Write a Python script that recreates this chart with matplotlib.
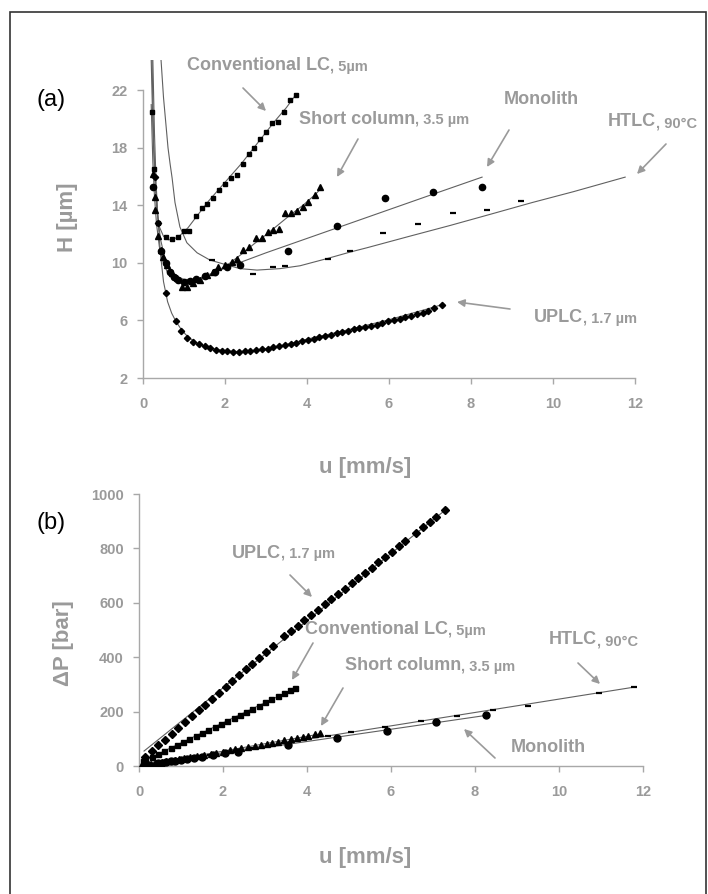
import matplotlib
matplotlib.use("Agg")
import matplotlib.pyplot as plt
from matplotlib.patches import Rectangle, FancyArrowPatch

plt.rcParams['font.family'] = ['Liberation Sans', 'DejaVu Sans']

W, H = 708, 894
GRAY = '#9a9a9a'
AXC = '#a8a8a8'
LINEC = '#606060'

# ---------------- Panel (a): plate height H [um] vs u [mm/s] ----------------
x_ticks = [0, 2, 4, 6, 8, 10, 12]
h_ticks = [2, 6, 10, 14, 18, 22]
p_ticks = [0, 200, 400, 600, 800, 1000]

uplc_u_a = [0.30, 0.37, 0.56, 0.80, 0.93, 1.07, 1.22, 1.36, 1.50, 1.64, 1.78, 1.92, 2.06, 2.20,
            2.34, 2.48, 2.62, 2.76, 2.90, 3.04, 3.18, 3.32, 3.46, 3.60, 3.74, 3.88, 4.02, 4.16,
            4.30, 4.44, 4.58, 4.72, 4.86, 5.00, 5.14, 5.28, 5.42, 5.56, 5.70, 5.84, 5.98, 6.12,
            6.26, 6.40, 6.54, 6.68, 6.82, 6.96, 7.10, 7.29]
uplc_h_a = [16.0, 12.8, 7.9, 5.95, 5.3, 4.75, 4.5, 4.35, 4.2, 4.1, 3.98, 3.9, 3.85, 3.8,
            3.82, 3.85, 3.88, 3.95, 4.0, 4.05, 4.12, 4.2, 4.3, 4.38, 4.45, 4.55, 4.62, 4.72,
            4.85, 4.92, 5.0, 5.1, 5.2, 5.25, 5.38, 5.5, 5.55, 5.62, 5.7, 5.85, 5.95, 6.05,
            6.12, 6.22, 6.3, 6.45, 6.55, 6.65, 6.85, 7.1]
uplc_fit_u_a = [0.24, 0.28, 0.32, 0.37, 0.43, 0.5, 0.6, 0.7, 0.8, 0.95, 1.1, 1.3, 1.5, 1.8,
                2.1, 2.4, 2.8, 3.2, 3.6, 4.0, 4.5, 5.0, 5.5, 6.0, 6.5, 7.0, 7.3]
uplc_fit_h_a = [24.1, 19.0, 15.5, 12.8, 10.5, 8.7, 7.3, 6.5, 5.95, 5.3, 4.85, 4.45, 4.2, 3.98,
                3.86, 3.84, 3.92, 4.12, 4.4, 4.7, 5.02, 5.35, 5.7, 6.05, 6.45, 6.85, 7.1]

conv_u_a = [0.22, 0.27, 0.37, 0.56, 0.71, 0.85, 1.00, 1.13, 1.29, 1.44, 1.57, 1.71, 1.86, 2.00,
            2.15, 2.29, 2.44, 2.59, 2.71, 2.85, 3.00, 3.15, 3.29, 3.44, 3.59, 3.73]
conv_h_a = [20.5, 16.5, 12.8, 11.8, 11.65, 11.8, 12.2, 12.2, 13.25, 13.8, 14.1, 14.5, 15.05, 15.5,
            15.9, 16.1, 16.9, 17.6, 18.0, 18.6, 19.1, 19.7, 19.8, 20.5, 21.3, 21.65]
conv_fit_u_a = [0.2, 0.24, 0.28, 0.33, 0.4, 0.5, 0.62, 0.75, 0.9, 1.1, 1.3, 1.6, 2.0, 2.4,
                2.8, 3.2, 3.5, 3.73]
conv_fit_h_a = [24.1, 19.5, 16.3, 13.9, 12.5, 11.85, 11.6, 11.65, 11.9, 12.45, 13.2, 14.3, 15.6,
                16.9, 18.35, 19.8, 20.8, 21.7]

short_u_a = [0.24, 0.29, 0.29, 0.37, 0.44, 0.49, 0.58, 0.70, 0.82, 0.95, 1.08, 1.21, 1.39, 1.55,
             1.71, 1.83, 2.00, 2.17, 2.29, 2.44, 2.59, 2.76, 2.90, 3.05, 3.17, 3.32, 3.46, 3.61,
             3.76, 3.90, 4.02, 4.20, 4.32]
short_h_a = [16.2, 14.6, 13.7, 11.9, 10.9, 10.4, 9.85, 9.3, 8.95, 8.3, 8.3, 8.6, 8.8, 9.15,
             9.35, 9.7, 9.85, 10.05, 10.3, 10.9, 11.1, 11.7, 11.7, 12.15, 12.3, 12.35, 13.5, 13.5,
             13.6, 13.9, 14.2, 14.7, 15.3]
short_fit_u_a = [0.2, 0.24, 0.28, 0.33, 0.4, 0.5, 0.62, 0.75, 0.9, 1.05, 1.25, 1.5, 1.8, 2.1,
                 2.4, 2.7, 3.0, 3.3, 3.6, 3.9, 4.2, 4.32]
short_fit_h_a = [21.0, 17.0, 14.6, 12.7, 11.1, 9.95, 9.2, 8.8, 8.6, 8.55, 8.65, 8.95, 9.4, 9.95,
                 10.6, 11.3, 11.95, 12.65, 13.35, 14.0, 14.75, 15.1]

mono_u_a = [0.24, 0.45, 0.55, 0.65, 0.75, 0.85, 1.00, 1.15, 1.30, 1.50, 1.75, 2.05, 2.37,
            3.54, 4.73, 5.90, 7.08, 8.27]
mono_h_a = [15.3, 10.8, 10.0, 9.4, 9.0, 8.8, 8.7, 8.75, 8.9, 9.1, 9.4, 9.7, 9.85,
            10.8, 12.55, 14.5, 14.9, 15.3]
mono_fit_u_a = [0.22, 0.26, 0.3, 0.36, 0.43, 0.52, 0.65, 0.8, 1.0, 1.3, 1.7, 2.2, 3.0, 4.0,
                5.0, 6.0, 7.0, 8.27]
mono_fit_h_a = [24.1, 18.5, 15.6, 13.2, 11.6, 10.5, 9.6, 9.1, 8.85, 8.85, 9.3, 9.85, 10.7, 11.7,
                12.7, 13.7, 14.7, 15.96]

htlc_u_a = [1.68, 2.68, 3.17, 3.46, 4.50, 5.05, 5.85, 6.71, 7.56, 8.39, 9.22]
htlc_h_a = [10.2, 9.2, 9.7, 9.8, 10.3, 10.8, 12.07, 12.7, 13.46, 13.67, 14.3]
htlc_fit_u_a = [0.44, 0.5, 0.56, 0.61, 0.66, 0.71, 0.78, 0.9, 1.07, 1.32, 1.63, 2.05, 2.37, 2.78,
                3.34, 3.83, 4.49, 5.05, 5.46, 6.5, 7.49, 8.5, 9.5, 10.5, 11.76]
htlc_fit_h_a = [24.1, 21.5, 19.6, 18.0, 16.9, 15.9, 14.2, 12.5, 11.4, 10.7, 10.2, 9.85, 9.6, 9.5,
                9.6, 9.8, 10.3, 10.75, 11.05, 11.85, 12.6, 13.4, 14.2, 14.95, 15.96]

# ---------------- Panel (b): pressure drop dP [bar] vs u [mm/s] ----------------
uplc_u_b = [0.14, 0.30, 0.46, 0.62, 0.78, 0.94, 1.10, 1.26, 1.42, 1.58, 1.74, 1.90, 2.06, 2.22,
            2.38, 2.54, 2.70, 2.86, 3.02, 3.18, 3.46, 3.62, 3.78, 3.94, 4.10, 4.26, 4.42, 4.58,
            4.74, 4.90, 5.06, 5.22, 5.38, 5.54, 5.70, 5.86, 6.02, 6.18, 6.34, 6.60, 6.76, 6.92,
            7.08, 7.29]
uplc_p_b = [33, 54, 76, 97, 119, 140, 162, 183, 205, 226, 247, 269, 290, 312,
            333, 355, 376, 397, 419, 440, 478, 497, 516, 536, 555, 574, 594, 613,
            633, 652, 671, 691, 710, 729, 749, 768, 787, 807, 826, 858, 877, 896,
            916, 941]
uplc_fit_u_b = [0.12, 7.35]
uplc_fit_p_b = [55, 948]

conv_u_b = [0.10, 0.14, 0.30, 0.45, 0.60, 0.75, 0.90, 1.05, 1.20, 1.35, 1.50, 1.65, 1.80, 1.95,
            2.10, 2.25, 2.40, 2.55, 2.70, 2.85, 3.00, 3.15, 3.30, 3.45, 3.60, 3.71]
conv_p_b = [19, 22, 34, 45, 56, 67, 78, 89, 100, 111, 123, 134, 145, 156,
            167, 178, 189, 200, 211, 222, 234, 245, 256, 267, 278, 286]
conv_fit_u_b = [0.10, 3.73]
conv_fit_p_b = [18, 287]

short_u_b = [0.05, 0.12, 0.20, 0.28, 0.36, 0.45, 0.55, 0.65, 0.75, 0.85, 0.95, 1.08, 1.21, 1.39,
             1.55, 1.71, 1.83, 2.00, 2.17, 2.29, 2.44, 2.59, 2.76, 2.90, 3.05, 3.17, 3.32, 3.46,
             3.61, 3.76, 3.90, 4.02, 4.20, 4.32]
short_p_b = [1, 3, 5, 7, 9, 12, 14, 17, 20, 22, 25, 29, 32, 37,
             41, 45, 48, 53, 58, 61, 65, 70, 74, 78, 82, 86, 90, 95,
             100, 104, 108, 111, 116, 120]
short_fit_u_b = [0.0, 4.32]
short_fit_p_b = [0, 118]

mono_u_b = [0.24, 0.45, 0.55, 0.65, 0.75, 0.85, 1.00, 1.15, 1.30, 1.50, 1.75, 2.05, 2.36,
            3.55, 4.71, 5.90, 7.07, 8.26]
mono_p_b = [5, 10, 12, 14, 17, 19, 22, 26, 29, 33, 39, 46, 51,
            78, 103, 129, 160, 189]
mono_fit_u_b = [0.0, 8.26]
mono_fit_p_b = [0, 186]

htlc_u_b = [0.62, 1.68, 2.68, 3.46, 4.50, 5.05, 5.85, 6.71, 7.56, 8.43, 9.26, 10.95, 11.79]
htlc_p_b = [15, 41, 65, 84, 110, 124, 143, 164, 185, 206, 220, 268, 290]
htlc_fit_u_b = [0.0, 11.79]
htlc_fit_p_b = [0, 290]

# annotation texts
ann_big = ['Conventional LC', 'Short column', 'Monolith', 'HTLC', 'UPLC',
           'UPLC', 'Conventional LC', 'Short column', 'HTLC', 'Monolith']
ann_small = [', 5µm', ', 3.5 µm', '', ', 90°C', ', 1.7 µm',
             ', 1.7 µm', ', 5µm', ', 3.5 µm', ', 90°C', '']

# ---------------- figure ----------------
fig = plt.figure(figsize=(W / 100, H / 100), dpi=100)

def fx(x):
    return x / W

def fy(y):
    return 1 - y / H

ax1 = fig.add_axes([fx(143), fy(378), fx(635) - fx(143), fy(60) - fy(378)])
ax2 = fig.add_axes([fx(139), fy(766), fx(643) - fx(139), fy(494) - fy(766)])

def style(ax, yt, ylim, ybounds):
    ax.set_xlim(0, 12)
    ax.set_ylim(*ylim)
    ax.set_xticks(x_ticks)
    ax.set_yticks(yt)
    for s in ['top', 'right']:
        ax.spines[s].set_visible(False)
    for s in ['left', 'bottom']:
        ax.spines[s].set_color(AXC)
        ax.spines[s].set_linewidth(1.0)
    ax.spines['left'].set_bounds(*ybounds)
    ax.tick_params(axis='both', colors=AXC, length=4, width=1.0, direction='out',
                   labelcolor=GRAY, labelsize=10.5)
    ax.tick_params(axis='y', pad=7)
    ax.tick_params(axis='x', pad=10)
    for lab in ax.get_xticklabels() + ax.get_yticklabels():
        lab.set_fontweight('bold')
    ax.patch.set_visible(False)

style(ax1, h_ticks, (2, 24.1), (2, 22))
style(ax2, p_ticks, (0, 1000), (0, 1000))

lw = 0.8
# panel a
for u, h in [(uplc_fit_u_a, uplc_fit_h_a), (conv_fit_u_a, conv_fit_h_a),
             (short_fit_u_a, short_fit_h_a), (mono_fit_u_a, mono_fit_h_a),
             (htlc_fit_u_a, htlc_fit_h_a)]:
    ax1.plot(u, h, color=LINEC, lw=lw, zorder=2)
ax1.plot(uplc_u_a, uplc_h_a, ls='none', marker='D', ms=3.2, color='black', zorder=3)
ax1.plot(conv_u_a, conv_h_a, ls='none', marker='s', ms=2.8, color='black', zorder=3)
ax1.plot(short_u_a, short_h_a, ls='none', marker='^', ms=5, color='black', zorder=3)
ax1.plot(mono_u_a, mono_h_a, ls='none', marker='o', ms=4.5, color='black', zorder=3)
ax1.plot(htlc_u_a, htlc_h_a, ls='none', marker='_', ms=5, mew=1.6, color='black', zorder=3)

# panel b
for u, p in [(uplc_fit_u_b, uplc_fit_p_b), (conv_fit_u_b, conv_fit_p_b),
             (short_fit_u_b, short_fit_p_b), (mono_fit_u_b, mono_fit_p_b),
             (htlc_fit_u_b, htlc_fit_p_b)]:
    ax2.plot(u, p, color=LINEC, lw=lw, zorder=2)
ax2.plot(uplc_u_b, uplc_p_b, ls='none', marker='D', ms=4.0, color='black', zorder=3)
ax2.plot(conv_u_b, conv_p_b, ls='none', marker='s', ms=3.6, color='black', zorder=3)
ax2.plot(short_u_b, short_p_b, ls='none', marker='^', ms=5, color='black', zorder=3)
ax2.plot(mono_u_b, mono_p_b, ls='none', marker='o', ms=5, color='black', zorder=3)
ax2.plot(htlc_u_b, htlc_p_b, ls='none', marker='_', ms=4, mew=1.6, color='black', zorder=3)

# axis labels
lab_kw = dict(color=GRAY, fontweight='bold', fontsize=16, ha='center', va='center')
fig.text(fx(365), fy(467), 'u [mm/s]', **lab_kw)
fig.text(fx(365), fy(858), 'u [mm/s]', **lab_kw)
fig.text(fx(68), fy(217), 'H [µm]', rotation=90, **lab_kw)
fig.text(fx(63), fy(643), 'ΔP [bar]', rotation=90, **lab_kw)

fig.text(fx(36), fy(100), '(a)', fontsize=17, color='black', ha='left', va='center')
fig.text(fx(36), fy(523), '(b)', fontsize=17, color='black', ha='left', va='center')

# annotation positions (text left x, text center y) and arrows (start, end), pixels
ann_txt = [(187, 66), (299, 119), (504, 100), (608, 122), (534, 318),
           (232, 553), (305, 630), (345, 666), (549, 640), (511, 748)]
ann_arrow = [((243, 88), (266, 111)), ((358, 139), (337, 177)), ((509, 130), (487, 167)),
             ((666, 144), (637, 174)), ((510, 309), (457, 302)),
             ((290, 575), (312, 597)), ((313, 643), (292, 680)), ((343, 688), (321, 726)),
             ((578, 663), (600, 684)), ((495, 758), (464, 729))]

pairs = []
for big, small, (tx, ty), (a0, a1) in zip(ann_big, ann_small, ann_txt, ann_arrow):
    t = fig.text(fx(tx), fy(ty), big, color=GRAY, fontweight='bold', fontsize=13,
                 ha='left', va='center')
    if small:
        s = fig.text(0, 0, small, color=GRAY, fontweight='bold', fontsize=10.5,
                     ha='left', va='bottom')
        pairs.append((t, s))
    fig.add_artist(FancyArrowPatch(
        (fx(a0[0]), fy(a0[1])), (fx(a1[0]), fy(a1[1])), transform=fig.transFigure,
        arrowstyle='-|>', mutation_scale=11, color=GRAY, lw=1.2, shrinkA=0, shrinkB=0))

# place small texts right after big texts
fig.canvas.draw()
renderer = fig.canvas.get_renderer()
inv = fig.transFigure.inverted()
for b, s in pairs:
    bb = b.get_window_extent(renderer)
    x1, y0 = inv.transform((bb.x1, bb.y0))
    s.set_position((x1, y0 + 0.5 / H))

fig.add_artist(Rectangle((fx(10), -0.01), fx(706) - fx(10), fy(12) + 0.01,
                         transform=fig.transFigure, fill=False, ec='#333333', lw=1.2))

fig.savefig('out.png', dpi=100)
